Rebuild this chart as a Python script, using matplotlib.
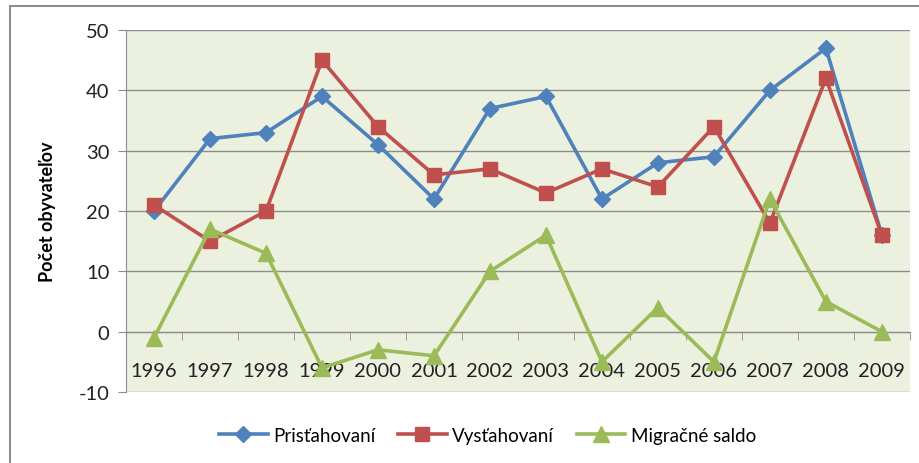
import numpy as np
import matplotlib
matplotlib.use('Agg')
import matplotlib.pyplot as plt
from matplotlib.ticker import FixedLocator
from matplotlib.patches import Rectangle

plt.rcParams['font.family'] = ['Lato', 'DejaVu Sans']
plt.rcParams['axes.unicode_minus'] = False

# Data

years = ['1996', '1997', '1998', '1999', '2000', '2001', '2002',
         '2003', '2004', '2005', '2006', '2007', '2008', '2009']
pristahovani = [20, 32, 33, 39, 31, 22, 37, 39, 22, 28, 29, 40, 47, 16]
vystahovani = [21, 15, 20, 45, 34, 26, 27, 23, 27, 24, 34, 18, 42, 16]
saldo = [-1, 17, 13, -6, -3, -4, 10, 16, -5, 4, -5, 22, 5, 0]

fig = plt.figure(figsize=(9.2, 4.64), dpi=100)
ax = fig.add_axes([0.137, 0.153, 0.852, 0.780])
ax.set_facecolor('#EBF1DE')

# outer chart border
fig.patches.append(Rectangle((0.011, -0.05), 1.1, 1.035, transform=fig.transFigure,
                             fill=False, edgecolor='#8C8C8C', linewidth=1.5))

x = np.arange(len(years))
ax.plot(x, pristahovani, color='#4F81BD', lw=2.6, marker='D', ms=8, label='Prisťahovaní', zorder=3)
ax.plot(x, vystahovani, color='#C0504D', lw=2.6, marker='s', ms=10, label='Vysťahovaní', zorder=3)
ax.plot(x, saldo, color='#9BBB59', lw=2.6, marker='^', ms=11, label='Migračné saldo', zorder=3)

ax.set_xlim(-0.5, len(years) - 0.5)
ax.set_ylim(-10, 50)
ax.set_yticks(range(-10, 51, 10))
ax.yaxis.grid(True, color='#8C8C8C', linewidth=1)
ax.set_axisbelow(True)

ax.set_xticks(x)
ax.set_xticklabels(years)
ax.xaxis.set_minor_locator(FixedLocator(np.arange(-0.5, len(years), 1)))
ax.tick_params(axis='x', which='major', length=0, pad=22, labelsize=14.5, labelcolor='#222222')
ax.tick_params(axis='x', which='minor', length=6, color='#8C8C8C', direction='out')
ax.tick_params(axis='y', length=6, color='#8C8C8C', labelsize=14.5, labelcolor='#222222', pad=6)

ax.spines['bottom'].set_position(('data', 0))
ax.spines['bottom'].set_color('#8C8C8C')
ax.spines['left'].set_color('#8C8C8C')
ax.spines['top'].set_visible(False)
ax.spines['right'].set_visible(False)

ax.set_ylabel('Počet obyvateľov', fontsize=13, fontweight='bold', labelpad=16)

fig.legend(loc='center', bbox_to_anchor=(0.53, 0.06), ncol=3, frameon=False,
           fontsize=13.5, handlelength=2.6, columnspacing=1.2, handletextpad=0.3)

fig.savefig('out.png', dpi=100)
